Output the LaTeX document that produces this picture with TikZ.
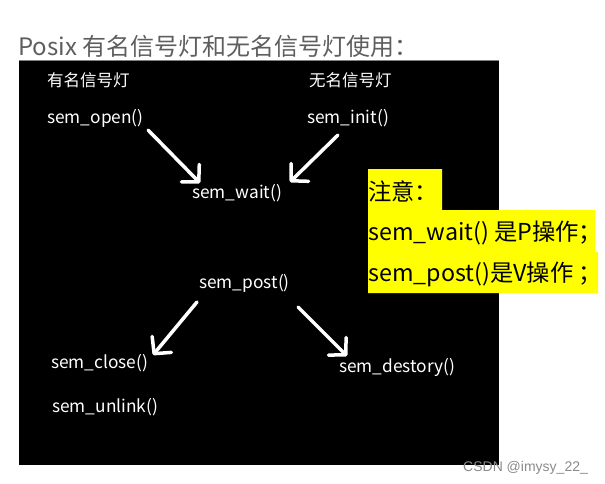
\documentclass[tikz,border=0pt]{standalone}
\usepackage{fontspec}
\setmainfont{Noto Sans CJK SC}
\newfontfamily\wmfont{Liberation Sans}
\usetikzlibrary{arrows.meta}
\definecolor{titlegray}{HTML}{5E5E5E}
\definecolor{noteyellow}{HTML}{FFFF00}
\definecolor{wmgray}{HTML}{8A8A8A}
\tikzset{
  wlabel/.style={anchor=west, inner sep=0pt, text=white, font=\fontsize{17.3}{20}\selectfont},
  clabel/.style={anchor=west, inner sep=0pt, text=white, font=\fontsize{16.5}{20}\selectfont},
  notetext/.style={anchor=west, inner sep=0pt, text=black, font=\fontsize{23.3}{27}\selectfont},
  harrow/.style={draw=white, line width=3.5pt, line cap=round, -{Straight Barb[length=12pt,width=25pt,round]}}
}
\begin{document}
\begin{tikzpicture}[x=1pt, y=-1pt]
\useasboundingbox (0,0) rectangle (605,484);
\fill[white] (0,0) rectangle (605,484);
% black panel
\fill[black] (19,60) rectangle (499,465);
\draw[gray, line width=1pt] (19,60.5) -- (499,60.5);
% title
\node[anchor=west, inner sep=0pt, text=titlegray, font=\fontsize{24}{28}\selectfont] (title) at (18,46) {Posix 有名信号灯和无名信号灯使用：};
% column headings
\node[clabel] (named) at (47,80) {有名信号灯};
\node[clabel] (unnamed) at (309,80) {无名信号灯};
% functions
\node[wlabel] (open) at (47,118) {sem\_open()};
\node[wlabel] (init) at (307,118) {sem\_init()};
\node[wlabel] (wait) at (192,193) {sem\_wait()};
\node[wlabel] (post) at (199,283) {sem\_post()};
\node[wlabel] (close) at (51,363) {sem\_close()};
\node[wlabel] (destory) at (339,367) {sem\_destory()};
\node[wlabel] (unlink) at (52,407) {sem\_unlink()};
% arrows
\coordinate (a1s) at (148,130); \coordinate (a1e) at (200,183);
\coordinate (a2s) at (338,135); \coordinate (a2e) at (290,182);
\coordinate (a3s) at (197,302); \coordinate (a3e) at (153,355);
\coordinate (a4s) at (298,307); \coordinate (a4e) at (347,356);
\draw[harrow] (a1s) -- (a1e);
\draw[harrow] (a2s) -- (a2e);
\draw[harrow] (a3s) -- (a3e);
\draw[harrow] (a4s) -- (a4e);
% note
\fill[noteyellow] (368,169) -- (442,169) -- (442,210) -- (595,210) -- (595,252) -- (598,252) -- (598,293) -- (368,293) -- cycle;
\node[notetext] (note1) at (368,191) {注意：};
\node[notetext] (note2) at (368,233) {sem\_wait() 是P操作；};
\node[notetext] (note3) at (368,274) {sem\_post()是V操作 ；};
% watermark
\node[anchor=west, inner sep=0pt, text=wmgray, font=\wmfont\fontsize{14}{16}\selectfont] (wm) at (463,468) {CSDN @imysy\_22\_};
\end{tikzpicture}
\end{document}
